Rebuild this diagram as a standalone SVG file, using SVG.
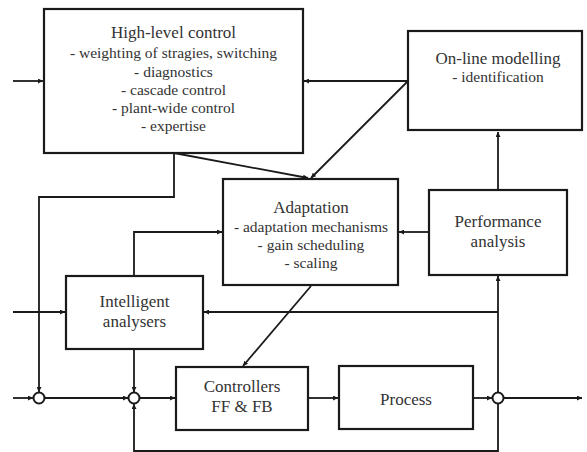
<svg xmlns="http://www.w3.org/2000/svg" width="587" height="452" viewBox="0 0 587 452" font-family="Liberation Serif, Times New Roman, Tinos, DejaVu Serif, Noto Serif, serif">
  <defs>
    <marker id="arr" viewBox="0 0 10 10" refX="10" refY="5" markerWidth="5" markerHeight="5" markerUnits="userSpaceOnUse" orient="auto">
      <path d="M0,0 L10,5 L0,10 z" fill="#1a1a1a"/>
    </marker>
  </defs>
  <style>
    .box { fill: #fff; stroke: #1a1a1a; stroke-width: 2.2; }
    .ar { fill: none; stroke: #1a1a1a; stroke-width: 1.8; marker-end: url(#arr); }
    .sum { fill: #fff; stroke: #1a1a1a; stroke-width: 2; }
    .lbl { fill: #333; text-anchor: middle; }
    .t { font-size: 17px; }
    .i { font-size: 15.5px; }
  </style>
  <rect width="587" height="452" fill="#fff"/>

  <g id="connectors">
    <!-- inputs on the left -->
    <line class="ar" x1="13" y1="81" x2="43" y2="81"/>
    <line class="ar" x1="13" y1="312" x2="65" y2="312"/>
    <line class="ar" x1="13" y1="398" x2="33" y2="398"/>
    <!-- on-line modelling to high-level control and adaptation -->
    <line class="ar" x1="408" y1="81" x2="304" y2="81"/>
    <line class="ar" x1="408" y1="81" x2="311" y2="178"/>
    <!-- high-level control outputs -->
    <line class="ar" x1="174" y1="153" x2="308" y2="178"/>
    <polyline class="ar" points="174,153 174,197 39,197 39,392"/>
    <!-- intelligent analysers -->
    <polyline class="ar" points="134,276 134,232 222,232"/>
    <line class="ar" x1="134" y1="349" x2="134" y2="392"/>
    <polyline class="ar" points="498,312 204,312"/>
    <!-- performance analysis -->
    <line class="ar" x1="429" y1="232" x2="399" y2="232"/>
    <line class="ar" x1="498" y1="190" x2="498" y2="132"/>
    <line class="ar" x1="498" y1="392" x2="498" y2="276"/>
    <!-- adaptation to controllers -->
    <line class="ar" x1="311" y1="286" x2="243" y2="366"/>
    <!-- main loop -->
    <line class="ar" x1="45" y1="398" x2="128" y2="398"/>
    <line class="ar" x1="140" y1="398" x2="175" y2="398"/>
    <line class="ar" x1="308" y1="398" x2="338" y2="398"/>
    <line class="ar" x1="473" y1="398" x2="492" y2="398"/>
    <line class="ar" x1="504" y1="398" x2="582" y2="398"/>
    <!-- feedback -->
    <polyline class="ar" points="498,404 498,451 134,451 134,404"/>
  </g>

  <g id="sum1"><circle class="sum" cx="39" cy="398" r="5.5"/></g>
  <g id="sum2"><circle class="sum" cx="134" cy="398" r="5.5"/></g>
  <g id="sum3"><circle class="sum" cx="498" cy="398" r="5.5"/></g>

  <g id="high-level">
    <rect class="box" x="44" y="9" width="259" height="144" stroke-width="2.8"/>
    <text class="lbl t" x="173.5" y="38">High-level control</text>
    <text class="lbl i" x="173.5" y="58">- weighting of stragies, switching</text>
    <text class="lbl i" x="173.5" y="77">- diagnostics</text>
    <text class="lbl i" x="173.5" y="95">- cascade control</text>
    <text class="lbl i" x="173.5" y="113">- plant-wide control</text>
    <text class="lbl i" x="173.5" y="131">- expertise</text>
  </g>

  <g id="online-modelling">
    <rect class="box" x="408" y="31" width="174" height="99"/>
    <text class="lbl t" x="498" y="64">On-line modelling</text>
    <text class="lbl i" x="498" y="82">- identification</text>
  </g>

  <g id="adaptation">
    <rect class="box" x="223" y="179" width="175" height="106"/>
    <text class="lbl t" x="311" y="213">Adaptation</text>
    <text class="lbl i" x="311" y="232">- adaptation mechanisms</text>
    <text class="lbl i" x="311" y="250">- gain scheduling</text>
    <text class="lbl i" x="311" y="268">- scaling</text>
  </g>

  <g id="performance">
    <rect class="box" x="429" y="190" width="138" height="85"/>
    <text class="lbl t" x="498" y="227">Performance</text>
    <text class="lbl t" x="498" y="247">analysis</text>
  </g>

  <g id="intelligent">
    <rect class="box" x="66" y="276" width="137" height="73"/>
    <text class="lbl t" x="134.5" y="307">Intelligent</text>
    <text class="lbl t" x="134.5" y="327">analysers</text>
  </g>

  <g id="controllers">
    <rect class="box" x="176" y="367" width="132" height="63"/>
    <text class="lbl t" x="242" y="392">Controllers</text>
    <text class="lbl t" x="242" y="412">FF &amp; FB</text>
  </g>

  <g id="process">
    <rect class="box" x="339" y="366" width="134" height="63"/>
    <text class="lbl t" x="406" y="405">Process</text>
  </g>
</svg>
